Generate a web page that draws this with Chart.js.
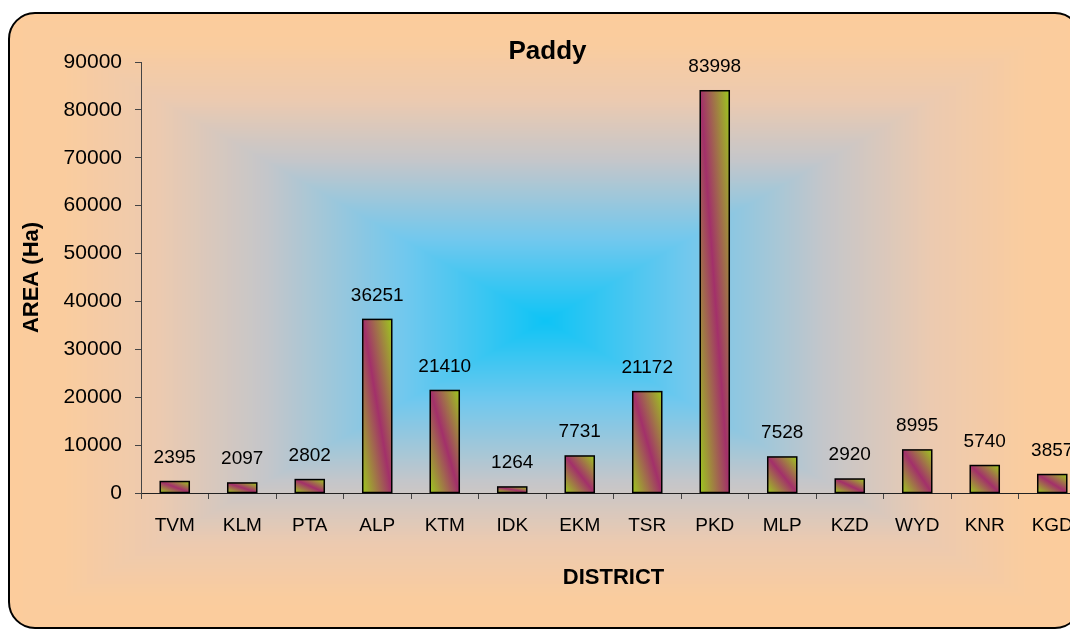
<!DOCTYPE html>
<html>
<head>
<meta charset="utf-8">
<title>Paddy</title>
<script src="https://cdn.jsdelivr.net/npm/chart.js@4.4.1/dist/chart.umd.min.js"></script>
<style>
  html, body { margin: 0; padding: 0; background: #fff; overflow: hidden; }
  #wrap { width: 1100px; height: 630px; }
</style>
</head>
<body>
<div id="wrap"><canvas id="chart-1" width="1100" height="630"></canvas></div>
<script>
const districts = ['TVM', 'KLM', 'PTA', 'ALP', 'KTM', 'IDK', 'EKM', 'TSR', 'PKD', 'MLP', 'KZD', 'WYD', 'KNR', 'KGD'];
const paddyArea = [2395, 2097, 2802, 36251, 21410, 1264, 7731, 21172, 83998, 7528, 2920, 8995, 5740, 3857];
const yMax = 90000;
const yStep = 10000;

// backdrop colour stops, centre (0) to frame edge (1)
const backStops = [
  [0, [14, 196, 245]],
  [0.26, [112, 200, 238]],
  [0.52, [196, 198, 202]],
  [0.72, [236, 202, 176]],
  [0.9, [250, 204, 158]],
  [1, [252, 204, 156]]
];
const barGreen = '#9dc71f';
const barMagenta = '#a3306a';

// rounded chart frame, filled with a rectangle-shaped gradient from the middle out
const frame = { left: 9, top: 13, right: 1081, bottom: 628, radius: 26 };

function backColor(t) {
  for (let s = 1; s < backStops.length; s++) {
    const [t1, c1] = backStops[s];
    const [t0, c0] = backStops[s - 1];
    if (t <= t1) {
      const f = (t - t0) / (t1 - t0);
      return [0, 1, 2].map(k => c0[k] + (c1[k] - c0[k]) * f);
    }
  }
  return backStops[backStops.length - 1][1];
}

function makeBackdrop() {
  const w = frame.right - frame.left;
  const h = frame.bottom - frame.top;
  const off = document.createElement('canvas');
  off.width = w;
  off.height = h;
  const octx = off.getContext('2d');
  const img = octx.createImageData(w, h);
  const hw = w / 2, hh = h / 2;
  for (let j = 0; j < h; j++) {
    for (let i = 0; i < w; i++) {
      const t = Math.min(1, Math.max(Math.abs(i - hw) / hw, Math.abs(j - hh) / hh));
      const c = backColor(t);
      const k = (j * w + i) * 4;
      img.data[k] = c[0];
      img.data[k + 1] = c[1];
      img.data[k + 2] = c[2];
      img.data[k + 3] = 255;
    }
  }
  octx.putImageData(img, 0, 0);
  return off;
}
const backdropImg = makeBackdrop();

function framePath(ctx) {
  ctx.beginPath();
  ctx.roundRect(frame.left, frame.top, frame.right - frame.left, frame.bottom - frame.top, frame.radius);
}

const backdrop = {
  id: 'backdrop',
  beforeDraw(chart) {
    const ctx = chart.ctx;
    ctx.save();
    framePath(ctx);
    ctx.clip();
    ctx.drawImage(backdropImg, frame.left, frame.top);
    ctx.restore();
    ctx.save();
    framePath(ctx);
    ctx.lineWidth = 2;
    ctx.strokeStyle = '#000';
    ctx.stroke();
    ctx.restore();
  }
};

// diagonal green/magenta fill for each bar plus the value above it
const gradientBars = {
  id: 'gradientBars',
  afterDatasetsDraw(chart) {
    const ctx = chart.ctx;
    const meta = chart.getDatasetMeta(0);
    meta.data.forEach((bar, i) => {
      const p = bar.getProps(['x', 'y', 'base', 'width'], true);
      const left = p.x - p.width / 2;
      const top = Math.min(p.y, p.base);
      const h = Math.abs(p.base - p.y);
      ctx.save();
      ctx.translate(left, top);
      ctx.scale(p.width, h);
      const g = ctx.createLinearGradient(0, 1, 1, 0);
      g.addColorStop(0, barGreen);
      g.addColorStop(0.5, barMagenta);
      g.addColorStop(1, barGreen);
      ctx.fillStyle = g;
      ctx.fillRect(0, 0, 1, 1);
      ctx.restore();

      ctx.save();
      ctx.lineWidth = 1.5;
      ctx.strokeStyle = '#000';
      ctx.strokeRect(left, top, p.width, h);
      ctx.fillStyle = '#000';
      ctx.font = "19px 'Liberation Sans', Arial, sans-serif";
      ctx.textAlign = 'center';
      ctx.textBaseline = 'middle';
      ctx.fillText(String(paddyArea[i]), p.x, top - 24);
      ctx.restore();
    });
  }
};

Chart.defaults.font.family = "'Liberation Sans', Arial, sans-serif";
Chart.defaults.color = '#000';

new Chart(document.getElementById('chart-1'), {
  type: 'bar',
  data: {
    labels: districts,
    datasets: [{
      label: 'Paddy',
      data: paddyArea,
      backgroundColor: barMagenta,
      borderColor: '#000',
      borderWidth: 1.5,
      barPercentage: 0.43,
      categoryPercentage: 1
    }]
  },
  options: {
    responsive: false,
    animation: false,
    layout: { padding: { left: 9, right: 14, top: 0, bottom: 0 } },
    plugins: {
      legend: { display: false },
      tooltip: { enabled: false },
      title: {
        display: true,
        text: 'Paddy',
        color: '#000',
        font: { size: 26, weight: 'bold', lineHeight: 1 },
        padding: { top: 39, bottom: -3 }
      }
    },
    scales: {
      x: {
        grid: { drawOnChartArea: false, tickLength: 6, color: '#444' },
        border: { color: '#222', width: 1 },
        ticks: { font: { size: 19 }, padding: 15, color: '#000', maxRotation: 0, autoSkip: false },
        title: {
          display: true,
          text: 'DISTRICT',
          color: '#000',
          font: { size: 22, weight: 'bold', lineHeight: 1.2 },
          padding: { top: 0, bottom: 39 }
        },
        afterFit(scale) { scale.height = 137; }
      },
      y: {
        min: 0,
        max: yMax,
        grid: { drawOnChartArea: false, tickLength: 6, color: '#444' },
        border: { color: '#444', width: 1 },
        ticks: {
          stepSize: yStep,
          font: { size: 21 },
          padding: 13,
          color: '#000',
          callback: (v) => String(v)
        },
        title: {
          display: true,
          text: 'AREA (Ha)',
          color: '#000',
          font: { size: 22, weight: 'bold', lineHeight: 1.2 },
          padding: { top: 10, bottom: 0 }
        },
        afterFit(scale) { scale.width = 132; }
      }
    }
  },
  plugins: [backdrop, gradientBars]
});
</script>
</body>
</html>
